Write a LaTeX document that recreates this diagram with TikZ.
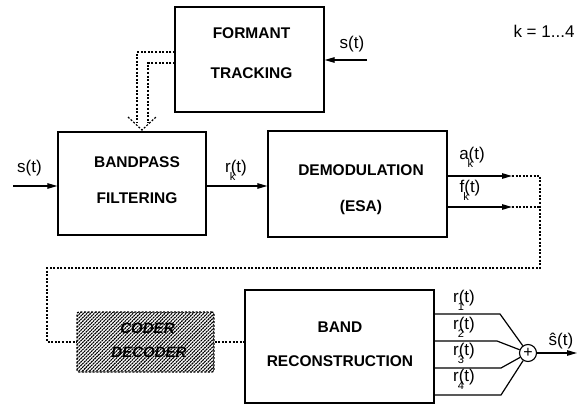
\documentclass[tikz,border=0pt]{standalone}
\usepackage{fontspec}
\setmainfont{Liberation Sans}
\usetikzlibrary{arrows.meta,patterns.meta,calc}
\newcommand\subsig[2]{#1\rlap{\kern-1pt\raisebox{-8pt}{\fontsize{11}{11}\selectfont #2}}(t)}
\begin{document}
\begin{tikzpicture}[x=1pt,y=-1pt,
  blk/.style={draw,line width=1.3pt,inner sep=0pt},
  txt/.style={inner sep=0pt,font=\fontsize{15.5}{15.5}\selectfont\bfseries},
  lbl/.style={font=\fontsize{17}{17}\selectfont,inner sep=0pt,anchor=base},
  sig/.style={line width=1.2pt,-{Triangle[length=10pt,width=5.5pt]}},
  wire/.style={line width=1.2pt},
  dotl/.style={line width=1.2pt,dash pattern=on 2pt off 1.6pt},
]
\useasboundingbox (0,0) rectangle (582,404);

% blocks
\node[blk,minimum width=149,minimum height=105] (formant) at (249.5,59.5) {};
\node[txt] (formant1) at (251.5,33) {FORMANT};
\node[txt] (formant2) at (251.5,73) {TRACKING};
\node[blk,minimum width=148,minimum height=103] (bandpass) at (132,183.5) {};
\node[txt] (bandpass1) at (137,162) {BANDPASS};
\node[txt] (bandpass2) at (137,198) {FILTERING};
\node[blk,minimum width=179,minimum height=106] (demod) at (357.5,184) {};
\node[txt] (demod1) at (361,170) {DEMODULATION};
\node[txt] (demod2) at (361,207) {(ESA)};
\node[blk,minimum width=189,minimum height=113] (band) at (339.5,346.5) {};
\node[txt] (band1) at (340,327) {BAND};
\node[txt] (band2) at (340,361) {RECONSTRUCTION};
\node[dotl,draw,rounded corners=2pt,inner sep=0pt,minimum width=137,minimum height=60,
  pattern={Lines[angle=45,distance=2.5pt,line width=1.1pt]}] (coder) at (145.5,342) {};
\node[txt,font=\fontsize{15}{15}\selectfont\bfseries\itshape] (coder1) at (147.5,328) {CODER};
\node[txt,font=\fontsize{15}{15}\selectfont\bfseries\itshape] (coder2) at (149,352) {DECODER};
\node[draw,circle,line width=1.1pt,minimum size=17,inner sep=0pt,
  font=\fontsize{16}{16}\selectfont] (sum) at (528,353) {+};

% formant input
\coordinate (sf) at (367,60);
\draw[sig] (sf) -- (formant.east |- sf);
\node[lbl] (lsf) at (352,49) {s(t)};

% hollow dashed double arrow
\coordinate (d1) at (175,52);
\coordinate (d2) at (175,63);
\coordinate (tip) at (142,130);
\draw[dotl] (d1) -- (137,52) -- (137,123);
\draw[dotl] (d2) -- (148,63) -- (148,123);
\draw[dotl] (128,117) -- (tip) -- (156,117);

% bandpass input
\coordinate (sin) at (13,186);
\draw[sig] (sin) -- (bandpass.west |- sin);
\node[lbl] (lsin) at (29.5,172) {s(t)};

% r_k
\coordinate (rk) at (bandpass.east |- sin);
\draw[sig] (rk) -- (demod.west |- rk);
\node[lbl] (lrk) at (236,172) {\subsig{r}{k}};

% demod outputs
\coordinate (ae) at (512,176);
\coordinate (fe) at (512,207);
\draw[sig] (demod.east |- ae) -- (ae);
\draw[sig] (demod.east |- fe) -- (fe);
\node[lbl] (lak) at (472,160) {\subsig{a}{k}};
\node[lbl] (lfk) at (470,193) {\subsig{f}{k}};

% dotted loop to coder
\coordinate (c1) at (540,176);
\coordinate (lr) at (540,268);
\coordinate (ll) at (47,268);
\draw[dotl] (ae) -- (c1) -- (lr) -- (ll) -- (ll |- coder.west) -- (coder.west);
\draw[dotl] (fe) -- (fe -| c1);
\draw[dotl] (coder.east) -- (band.west |- coder.east);

% band outputs
\coordinate (o1) at (500,314);
\coordinate (o2) at (497,341);
\coordinate (o3) at (501,368);
\coordinate (o4) at (501,395);
\foreach \i in {1,2,3,4}{
  \draw[wire] (band.east |- o\i) -- (o\i) -- (sum);
}
\node[lbl] (lr1) at (464,302) {\subsig{r}{1}};
\node[lbl] (lr2) at (464,329) {\subsig{r}{2}};
\node[lbl] (lr3) at (464,355) {\subsig{r}{3}};
\node[lbl] (lr4) at (464,381) {\subsig{r}{4}};

\coordinate (sout) at (577,353);
\draw[sig] (sum) -- (sout);
\node[lbl] (lsh) at (561,345) {\^{s}(t)};

\node[lbl] (lk) at (544,38) {k = 1...4};
\end{tikzpicture}
\end{document}
